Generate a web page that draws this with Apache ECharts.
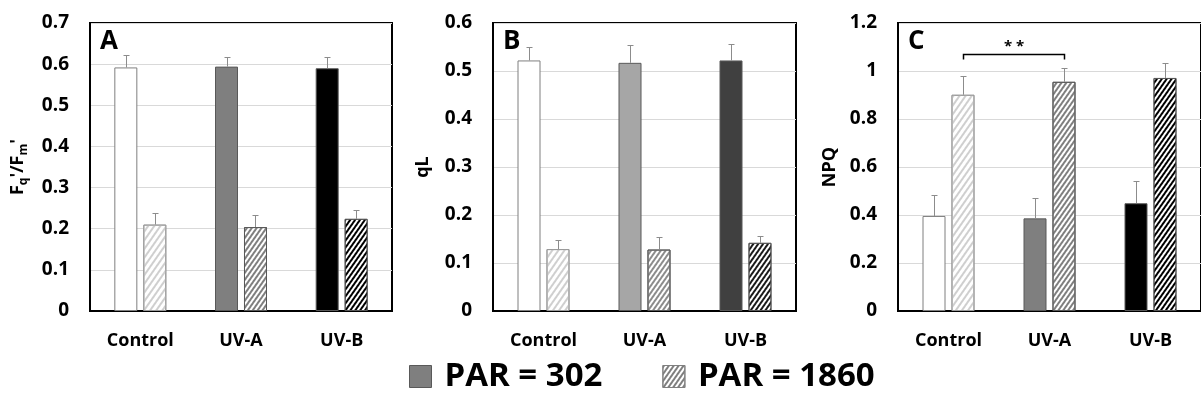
<!DOCTYPE html>
<html>
<head>
<meta charset="utf-8">
<script src="https://cdn.jsdelivr.net/npm/echarts@6/dist/echarts.min.js"></script>
<style>
html,body{margin:0;padding:0;background:#fff;}
#chart{width:1201px;height:406px;}
</style>
</head>
<body>
<div id="chart"></div>
<script>
// ---- data ----
const categories = ['Control', 'UV-A', 'UV-B'];
const legendNames = ['PAR = 302', 'PAR = 1860'];

const fqfm302 = [0.592, 0.594, 0.590];
const fqfm302Err = [0.030, 0.023, 0.028];
const fqfm1860 = [0.210, 0.204, 0.224];
const fqfm1860Err = [0.029, 0.030, 0.022];

const qL302 = [0.522, 0.517, 0.522];
const qL302Err = [0.027, 0.037, 0.034];
const qL1860 = [0.129, 0.128, 0.142];
const qL1860Err = [0.018, 0.026, 0.014];

const npq302 = [0.396, 0.386, 0.449];
const npq302Err = [0.087, 0.083, 0.093];
const npq1860 = [0.901, 0.955, 0.971];
const npq1860Err = [0.078, 0.057, 0.061];

const ticksA = [0, 0.1, 0.2, 0.3, 0.4, 0.5, 0.6, 0.7];
const ticksB = [0, 0.1, 0.2, 0.3, 0.4, 0.5, 0.6];
const ticksC = [0, 0.2, 0.4, 0.6, 0.8, 1.0, 1.2];

const panelLetters = ['A', 'B', 'C'];
const axisNames = ["F{s|q}'/F{s|m}'", 'qL', 'NPQ'];

// significance bracket in panel C (between PAR=1860 bars of Control and UV-A)
const sigPair = [0, 1];
const sigLevel = 1.07;
const sigLabel = '* *';

// ---- styles ----
const FONT = 'Open Sans';
const BAR_W = 23;
const BAR_GAP = 0.26;
const OFF = (BAR_W + BAR_W * BAR_GAP) / 2;
const HATCH_ROT = -0.96;

function hatch(color, w, gap) {
  return { symbol: 'rect', symbolSize: 1, dashArrayX: [1, 0], dashArrayY: [w, gap], rotation: HATCH_ROT, color: color };
}
const panelColors = [
  { solid: ['#ffffff', '#7f7f7f', '#000000'], hatch: ['#cfcfcf', '#7f7f7f', '#000000'] },
  { solid: ['#ffffff', '#a6a6a6', '#404040'], hatch: ['#cfcfcf', '#8c8c8c', '#1a1a1a'] },
  { solid: ['#ffffff', '#7f7f7f', '#000000'], hatch: ['#cfcfcf', '#7f7f7f', '#000000'] }
];
const hatchW = [[1.2, 2.1], [1.3, 1.9], [1.6, 1.4]];

const grids = [
  { left: 90, top: 23, width: 302, height: 288 },
  { left: 493, top: 23, width: 303, height: 288 },
  { left: 898, top: 23, width: 306, height: 288 }
];
const nameGaps = [60, 58, 56];
const tickSets = [ticksA, ticksB, ticksC];
const v302 = [fqfm302, qL302, npq302];
const e302 = [fqfm302Err, qL302Err, npq302Err];
const v1860 = [fqfm1860, qL1860, npq1860];
const e1860 = [fqfm1860Err, qL1860Err, npq1860Err];

function errRender(off) {
  return function (params, api) {
    const x = api.value(0), v = api.value(1), e = api.value(2);
    const p0 = api.coord([x, v]);
    const p1 = api.coord([x, v + e]);
    const cx = Math.round(p0[0] + off) + 0.5;
    const yt = Math.round(p1[1]) + 0.5;
    return {
      type: 'group',
      children: [
        { type: 'line', shape: { x1: cx, y1: p0[1], x2: cx, y2: yt }, style: { stroke: '#8c8c8c', lineWidth: 1 } },
        { type: 'line', shape: { x1: cx - 3, y1: yt, x2: cx + 3, y2: yt }, style: { stroke: '#8c8c8c', lineWidth: 1 } }
      ]
    };
  };
}

const xAxes = [], yAxes = [], series = [], titles = [];
grids.forEach((g, i) => {
  const t = tickSets[i];
  xAxes.push({
    type: 'category', gridIndex: i, data: categories,
    axisLine: { lineStyle: { color: '#000', width: 2 } },
    axisTick: { show: false },
    axisLabel: { margin: 21, fontSize: 18, fontWeight: 'bold', color: '#000', fontFamily: FONT }
  });
  yAxes.push({
    type: 'value', gridIndex: i, min: t[0], max: t[t.length - 1], interval: t[1] - t[0],
    name: axisNames[i], nameLocation: 'middle', nameGap: nameGaps[i],
    nameTextStyle: {
      fontSize: 18, fontWeight: 'bold', color: '#000', fontFamily: FONT, lineHeight: 24,
      rich: { s: { fontSize: 12, fontWeight: 'bold', color: '#000', fontFamily: FONT, lineHeight: 12, verticalAlign: 'bottom' } }
    },
    axisLine: { show: true, lineStyle: { color: '#000', width: 2 } },
    axisTick: { show: false },
    axisLabel: { margin: 21, fontSize: 19, fontWeight: 'bold', color: '#000', fontFamily: FONT },
    splitLine: { lineStyle: { color: '#d9d9d9', width: 1 } }
  });
  const pc = panelColors[i];
  series.push({
    type: 'bar', name: legendNames[0], xAxisIndex: i, yAxisIndex: i,
    barWidth: BAR_W, barGap: (BAR_GAP * 100) + '%',
    itemStyle: { color: '#7f7f7f', borderColor: '#6e6e6e', borderWidth: 1 },
    data: v302[i].map((v, k) => ({ value: v, itemStyle: { color: pc.solid[k], borderColor: k === 0 ? '#7f7f7f' : '#595959' } }))
  });
  series.push({
    type: 'bar', name: legendNames[1], xAxisIndex: i, yAxisIndex: i,
    barWidth: BAR_W, barGap: (BAR_GAP * 100) + '%',
    itemStyle: { color: '#ffffff', borderColor: '#7f7f7f', borderWidth: 1 },
    data: v1860[i].map((v, k) => ({
      value: v,
      itemStyle: { color: '#ffffff', borderColor: k === 0 ? '#9a9a9a' : '#595959', decal: hatch(pc.hatch[k], hatchW[k][0], hatchW[k][1]) }
    }))
  });
  series.push({
    type: 'custom', xAxisIndex: i, yAxisIndex: i, z: 5,
    renderItem: errRender(-OFF),
    data: v302[i].map((v, k) => [k, v, e302[i][k]])
  });
  series.push({
    type: 'custom', xAxisIndex: i, yAxisIndex: i, z: 5,
    renderItem: errRender(OFF),
    data: v1860[i].map((v, k) => [k, v, e1860[i][k]])
  });
  titles.push({
    text: panelLetters[i], left: g.left + 5, top: 24,
    textStyle: { fontSize: 26, fontWeight: 'bold', color: '#000', fontFamily: FONT }
  });
});

// significance bracket in panel C
series.push({
  type: 'custom', xAxisIndex: 2, yAxisIndex: 2, z: 6,
  renderItem: function (params, api) {
    const a = api.coord([api.value(0), api.value(2)]);
    const b = api.coord([api.value(1), api.value(2)]);
    const x1 = Math.round(a[0] + OFF) + 0.5, x2 = Math.round(b[0] + OFF) + 0.5;
    const y = Math.round(a[1]) + 0.5;
    return {
      type: 'group',
      children: [
        { type: 'polyline', shape: { points: [[x1, y + 5], [x1, y], [x2, y], [x2, y + 5]] }, style: { stroke: '#000', lineWidth: 1.5, fill: null } },
        { type: 'text', x: (x1 + x2) / 2, y: y - 8, style: { text: sigLabel, fontSize: 15, fontWeight: 'bold', fill: '#000', fontFamily: FONT, align: 'center', verticalAlign: 'middle' } }
      ]
    };
  },
  data: [[sigPair[0], sigPair[1], sigLevel]]
});

const option = {
  animation: false,
  backgroundColor: '#ffffff',
  title: titles,
  grid: grids.map(g => Object.assign({ show: true, borderColor: '#000', borderWidth: 2, backgroundColor: 'transparent' }, g)),
  xAxis: xAxes,
  yAxis: yAxes,
  legend: {
    left: 404, top: 355, itemWidth: 22, itemHeight: 22, itemGap: 60, icon: 'rect', selectedMode: false,
    textStyle: { fontSize: 33, fontWeight: 'bold', color: '#000', fontFamily: FONT, padding: [0, 0, 0, 8] },
    data: [
      { name: legendNames[0], itemStyle: { color: '#7f7f7f', borderColor: '#595959', borderWidth: 1 } },
      { name: legendNames[1], itemStyle: { color: '#ffffff', borderColor: '#7f7f7f', borderWidth: 1, decal: hatch('#7f7f7f', 1.3, 1.9) } }
    ]
  },
  series: series
};

const chart = echarts.init(document.getElementById('chart'), null, { renderer: 'canvas' });
chart.setOption(option);
</script>
</body>
</html>
